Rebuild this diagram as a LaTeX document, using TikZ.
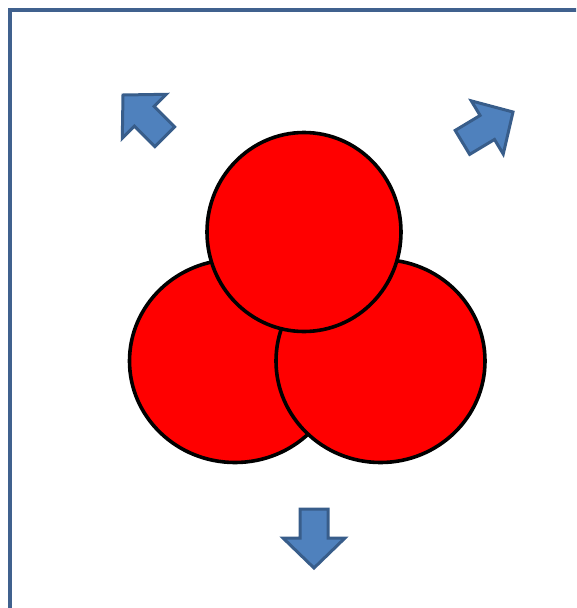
\documentclass[tikz,border=0pt]{standalone}
\usetikzlibrary{shapes.geometric}
\begin{document}
\begin{tikzpicture}[x=1pt,y=-1pt,
  ball/.style={draw=black,line width=3.6pt,fill=red,ellipse,inner sep=0pt},
  blockarrow/.style={draw=arrowedge,fill=arrowfill,line width=3pt,line join=miter},
  frame/.style={draw=frameblue,line width=3.2pt}]
\definecolor{arrowfill}{HTML}{4F81BD}
\definecolor{arrowedge}{HTML}{385D8A}
\definecolor{frameblue}{HTML}{40618E}
\useasboundingbox (0,0) rectangle (576,608);
\begin{scope}
\clip (0,0) rectangle (576,608);
\draw[frame] (10,10) rectangle (620,650);
\end{scope}
\node[ball,minimum width=211pt,minimum height=203pt] (left) at (235,361) {};
\node[ball,minimum width=209pt,minimum height=203pt] (right) at (380.5,361) {};
\node[ball,minimum width=194pt,minimum height=199pt] (top) at (304,232) {};
\foreach \px/\py/\ang in {123/95/135, 513/112/31, 314/568/-90}{
  \begin{scope}[shift={(\px,\py)},rotate=\ang]
    \draw[blockarrow] (0,0) -- (-30,31) -- (-30,14) -- (-59,14) -- (-59,-14) -- (-30,-14) -- (-30,-31) -- cycle;
  \end{scope}
}
\end{tikzpicture}
\end{document}
